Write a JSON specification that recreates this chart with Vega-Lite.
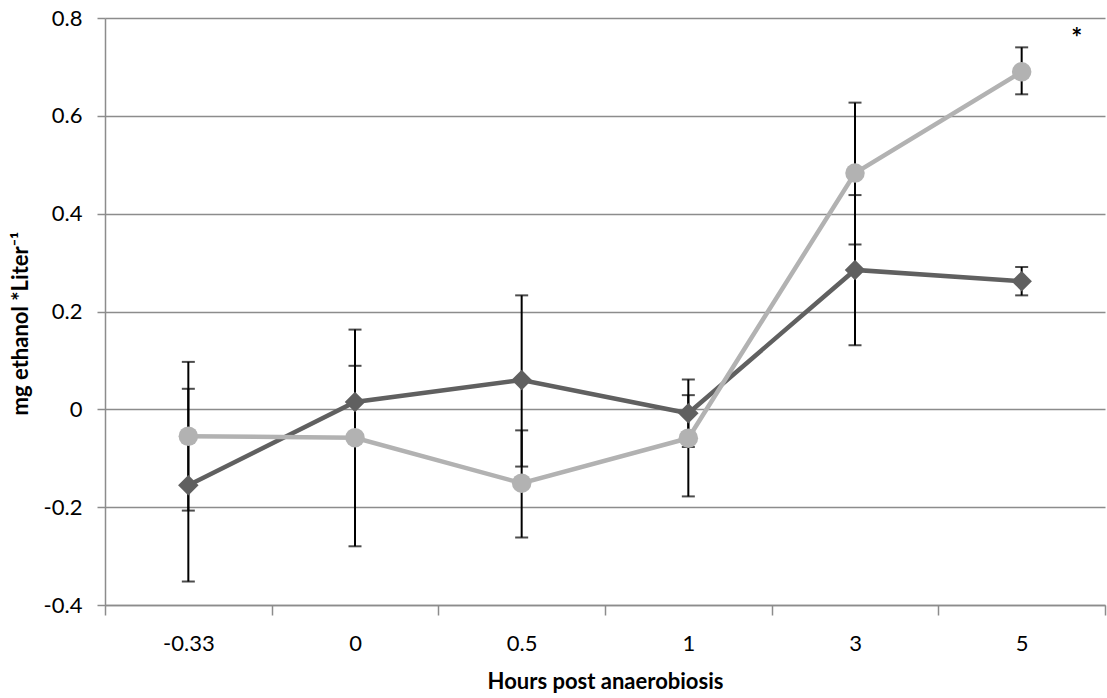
{
  "$schema": "https://vega.github.io/schema/vega-lite/v6.json",
  "width": 1000,
  "height": 587,
  "autosize": {"type": "none"},
  "padding": {"left": 105, "top": 18, "right": 2, "bottom": 93},
  "background": "white",
  "config": {
    "font": "Lato",
    "view": {"stroke": null}
  },
  "datasets": {
    "ethanol": [
      {"time": "-0.33", "series": "Series1", "mean": -0.155, "lo": -0.352, "hi": 0.042},
      {"time": "0", "series": "Series1", "mean": 0.015, "lo": -0.059, "hi": 0.089},
      {"time": "0.5", "series": "Series1", "mean": 0.06, "lo": -0.117, "hi": 0.233},
      {"time": "1", "series": "Series1", "mean": -0.008, "lo": -0.077, "hi": 0.061},
      {"time": "3", "series": "Series1", "mean": 0.285, "lo": 0.131, "hi": 0.438},
      {"time": "5", "series": "Series1", "mean": 0.262, "lo": 0.233, "hi": 0.291},
      {"time": "-0.33", "series": "Series2", "mean": -0.055, "lo": -0.207, "hi": 0.097},
      {"time": "0", "series": "Series2", "mean": -0.058, "lo": -0.28, "hi": 0.163},
      {"time": "0.5", "series": "Series2", "mean": -0.151, "lo": -0.262, "hi": -0.043},
      {"time": "1", "series": "Series2", "mean": -0.059, "lo": -0.178, "hi": 0.029},
      {"time": "3", "series": "Series2", "mean": 0.483, "lo": 0.337, "hi": 0.627},
      {"time": "5", "series": "Series2", "mean": 0.69, "lo": 0.644, "hi": 0.74}
    ],
    "notes": [
      {"time": "5", "y": 0.77, "label": "*"}
    ]
  },
  "encoding": {
    "x": {
      "field": "time",
      "type": "ordinal",
      "sort": ["-0.33", "0", "0.5", "1", "3", "5"],
      "scale": {"type": "band", "paddingInner": 0, "paddingOuter": 0},
      "axis": {
        "title": "Hours post anaerobiosis",
        "titleFont": "Lato",
        "titleFontSize": 22,
        "titleFontWeight": "bold",
        "titleColor": "black",
        "titlePadding": 17,
        "labelAngle": 0,
        "labelFontSize": 22,
        "labelColor": "black",
        "labelPadding": 18,
        "tickBand": "extent",
        "tickSize": 10,
        "tickColor": "#8c8c8c",
        "tickWidth": 1.5,
        "domainColor": "#8c8c8c",
        "domainWidth": 1.5,
        "grid": false
      }
    }
  },
  "layer": [
    {
      "data": {"name": "ethanol"},
      "mark": {"type": "rule", "color": "black", "strokeWidth": 2},
      "encoding": {
        "y": {
          "field": "lo",
          "type": "quantitative",
          "scale": {"domain": [-0.4, 0.8], "nice": false},
          "axis": {
            "title": "mg ethanol *Liter⁻¹",
            "titleFont": "Lato",
            "titleFontSize": 22,
            "titleFontWeight": "bold",
            "titleColor": "black",
            "titleX": -73,
            "titleY": 305,
            "titleBaseline": "bottom",
            "values": [-0.4, -0.2, 0, 0.2, 0.4, 0.6, 0.8],
            "labelExpr": "datum.value == 0 ? '0' : replace(datum.label, '\u2212', '-')",
            "labelFontSize": 22,
            "labelColor": "black",
            "labelPadding": 15,
            "tickSize": 8,
            "tickColor": "#8c8c8c",
            "tickWidth": 1.5,
            "domainColor": "#8c8c8c",
            "domainWidth": 1.5,
            "gridColor": "#8c8c8c",
            "gridWidth": 1.5
          }
        },
        "y2": {"field": "hi"}
      }
    },
    {
      "data": {"name": "ethanol"},
      "mark": {"type": "tick", "color": "black", "thickness": 2, "size": 13, "orient": "horizontal"},
      "encoding": {"y": {"field": "lo", "type": "quantitative"}}
    },
    {
      "data": {"name": "ethanol"},
      "mark": {"type": "tick", "color": "black", "thickness": 2, "size": 13, "orient": "horizontal"},
      "encoding": {"y": {"field": "hi", "type": "quantitative"}}
    },
    {
      "data": {"name": "ethanol"},
      "mark": {"type": "line", "strokeWidth": 4.5},
      "encoding": {
        "y": {"field": "mean", "type": "quantitative"},
        "color": {
          "field": "series",
          "type": "nominal",
          "scale": {"domain": ["Series1", "Series2"], "range": ["#606060", "#b2b2b2"]},
          "legend": null
        }
      }
    },
    {
      "data": {"name": "ethanol"},
      "mark": {"type": "point", "filled": true, "opacity": 1},
      "encoding": {
        "y": {"field": "mean", "type": "quantitative"},
        "color": {"field": "series", "type": "nominal", "legend": null},
        "shape": {
          "field": "series",
          "type": "nominal",
          "scale": {"domain": ["Series1", "Series2"], "range": ["diamond", "circle"]},
          "legend": null
        },
        "size": {
          "field": "series",
          "type": "nominal",
          "scale": {"domain": ["Series1", "Series2"], "range": [420, 380]},
          "legend": null
        }
      }
    },
    {
      "data": {"name": "notes"},
      "mark": {"type": "text", "fontSize": 26, "fontWeight": "bold", "dx": 55, "dy": 6, "color": "black", "font": "Lato"},
      "encoding": {
        "y": {"field": "y", "type": "quantitative"},
        "text": {"field": "label"}
      }
    }
  ]
}
